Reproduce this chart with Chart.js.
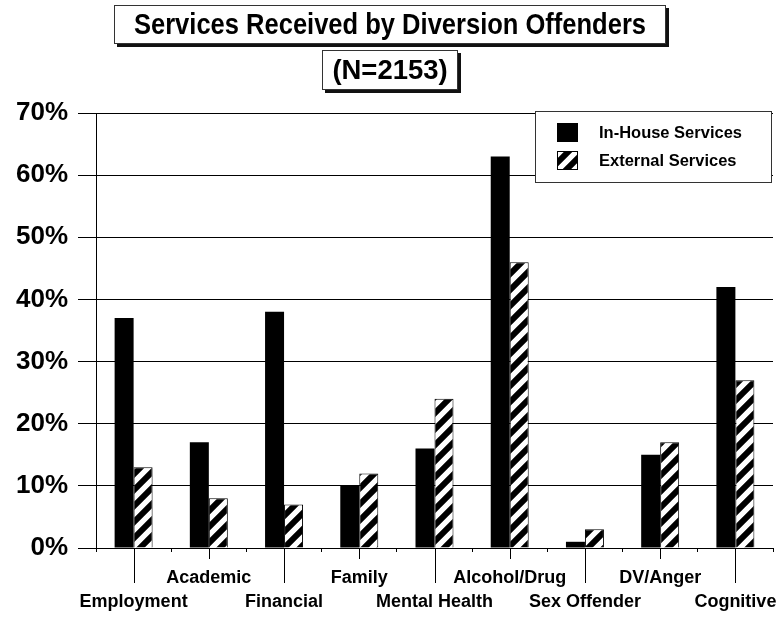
<!DOCTYPE html>
<html><head><meta charset="utf-8">
<script src="https://cdn.jsdelivr.net/npm/chart.js@4"></script>
<style>html,body{margin:0;padding:0;background:#fff}#wrap{width:780px;height:619px;position:relative}</style>
</head><body><div id="wrap"><canvas id="c"></canvas></div>
<script>
const titleText = 'Services Received by Diversion Offenders';
const subtitleText = '(N=2153)';
const categories = ['Employment','Academic','Financial','Family','Mental Health','Alcohol/Drug','Sex Offender','DV/Anger','Cognitive'];
const inHouse = [37,17,38,10,16,63,1,15,42];
const external = [13,8,7,12,24,46,3,17,27];
const seriesNames = ['In-House Services','External Services'];
const yTicks = [0,10,20,30,40,50,60,70];
const FONT = '"Liberation Sans", Arial, Helvetica, sans-serif';

function makeHatch(){
  const s = 16;
  const c = document.createElement('canvas'); c.width = s; c.height = s;
  const g = c.getContext('2d');
  g.fillStyle = '#fff'; g.fillRect(0,0,s,s);
  g.strokeStyle = '#000'; g.lineWidth = 6;
  g.beginPath();
  for (const k of [-s, 0, s]) { g.moveTo(k - s, 2*s); g.lineTo(k + 2*s, -s); }
  g.stroke();
  return g.createPattern(c, 'repeat');
}
const hatch = makeHatch();

function drawBox(ctx, x, y, w, h, text, size, sx){
  ctx.save();
  ctx.fillStyle = '#111'; ctx.fillRect(x+3, y+3, w, h);
  ctx.fillStyle = '#fff'; ctx.fillRect(x, y, w, h);
  ctx.strokeStyle = '#333'; ctx.lineWidth = 1; ctx.strokeRect(x+0.5, y+0.5, w-1, h-1);
  ctx.fillStyle = '#000'; ctx.font = 'bold ' + size + 'px ' + FONT;
  ctx.textAlign = 'center'; ctx.textBaseline = 'middle';
  ctx.translate(x + w/2, y + h/2 + 1);
  ctx.scale(sx, 1);
  ctx.fillText(text, 0, 0);
  ctx.restore();
}

const decor = {
  id: 'decor',
  afterDatasetsDraw(chart){
    const ctx = chart.ctx, ca = chart.chartArea, xs = chart.scales.x;
    ctx.save();
    ctx.strokeStyle = '#000'; ctx.lineWidth = 1;
    categories.forEach((c, i) => {
      const px = Math.round(xs.getPixelForValue(i)) + 0.5;
      ctx.beginPath(); ctx.moveTo(px, ca.bottom); ctx.lineTo(px, ca.bottom + (i % 2 === 0 ? 35 : 11)); ctx.stroke();
    });
    const lx = ca.right - 238, ly = ca.top - 2, lw = 237, lh = 72;
    ctx.fillStyle = '#fff'; ctx.fillRect(lx, ly, lw, lh);
    ctx.strokeStyle = '#333'; ctx.strokeRect(lx + 0.5, ly + 0.5, lw - 1, lh - 1);
    chart.data.datasets.forEach((d, i) => {
      const sy = ly + 12 + i * 28;
      ctx.fillStyle = d.backgroundColor; ctx.fillRect(lx + 22, sy, 21, 19);
      if (i === 1) { ctx.strokeStyle = '#000'; ctx.strokeRect(lx + 22.5, sy + 0.5, 20, 18); }
      ctx.save();
      ctx.fillStyle = '#000'; ctx.font = 'bold 17px ' + FONT;
      ctx.textAlign = 'left'; ctx.textBaseline = 'middle';
      ctx.translate(lx + 64, sy + 10); ctx.scale(0.97, 1);
      ctx.fillText(d.label, 0, 0);
      ctx.restore();
    });
    ctx.restore();
  },
  afterDraw(chart){
    const ctx = chart.ctx;
    drawBox(ctx, 114, 5, 552, 39, titleText, 29, 0.88);
    drawBox(ctx, 322, 50, 136, 40, subtitleText, 28, 0.98);
  }
};

new Chart(document.getElementById('c'), {
  type: 'bar',
  data: {
    labels: categories,
    datasets: [
      { label: seriesNames[0], data: inHouse, backgroundColor: '#000', borderColor: '#000', borderWidth: 0, categoryPercentage: 0.505, barPercentage: 1 },
      { label: seriesNames[1], data: external, backgroundColor: hatch, borderColor: '#000', borderWidth: 1, categoryPercentage: 0.505, barPercentage: 1 }
    ]
  },
  options: {
    responsive: true, maintainAspectRatio: false, animation: false,
    layout: { padding: { top: 113, right: 7, left: 0, bottom: 0 } },
    plugins: { legend: { display: false }, title: { display: false }, tooltip: { enabled: false } },
    scales: {
      x: {
        offset: true,
        grid: { display: true, drawOnChartArea: false, tickLength: 4, color: '#000', offset: true },
        border: { color: '#000', width: 1 },
        ticks: {
          color: '#000', autoSkip: false, maxRotation: 0, padding: 14,
          font: { family: FONT, size: 18, weight: 'bold', lineHeight: 1.33 },
          callback: (v, i) => i % 2 === 0 ? ['', categories[i]] : [categories[i], '']
        },
        afterFit: s => { s.height = 71; s.paddingLeft = 0; s.paddingRight = 0; }
      },
      y: {
        min: 0, max: 70,
        afterBuildTicks: s => { s.ticks = yTicks.map(v => ({ value: v })); },
        grid: { color: '#000', tickLength: 18 },
        border: { color: '#000', width: 1 },
        ticks: { color: '#000', padding: 10, font: { family: FONT, size: 26, weight: 'bold' }, callback: v => v + '%' },
        afterFit: s => { s.width = 96; s.paddingTop = 0; s.paddingBottom = 0; }
      }
    }
  },
  plugins: [decor]
});
</script>
</body></html>
